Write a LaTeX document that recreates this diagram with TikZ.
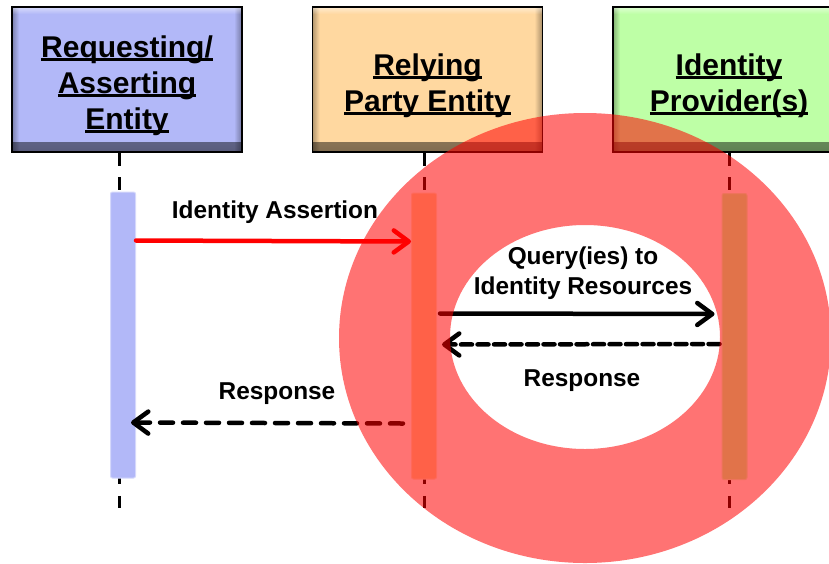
\documentclass[tikz,border=0pt]{standalone}
\usepackage{fontspec}
\setmainfont{Liberation Sans}
\usetikzlibrary{arrows.meta,fadings}

\definecolor{reqblue}{RGB}{178,184,248}
\definecolor{rporange}{RGB}{255,216,160}
\definecolor{idpgreen}{RGB}{190,255,166}

%% heavy underline for the header texts
\newcommand\hdul[1]{\setbox0\hbox{#1}\rlap{\rule[-3.5pt]{\wd0}{2.6pt}}\box0}

\tikzset{
  hdr/.style={draw=black, line width=1.8pt, fill=#1, minimum width=230pt,
    minimum height=145pt, inner sep=0pt,
    path picture={
      %% bevel
      \fill[black, opacity=.5, path fading=north]
        (path picture bounding box.south west) rectangle
        ([yshift=10pt]path picture bounding box.south east);
      \fill[black, opacity=.35, path fading=west]
        ([xshift=-8pt]path picture bounding box.south east) rectangle
        (path picture bounding box.north east);
      \fill[black, opacity=.3, path fading=east]
        (path picture bounding box.south west) rectangle
        ([xshift=7pt]path picture bounding box.north west);
      \fill[white, opacity=.5, path fading=south]
        ([yshift=-7pt]path picture bounding box.north west) rectangle
        (path picture bounding box.north east);
    }},
  hdrtxt/.style={align=center, inner sep=0pt,
    font=\fontsize{30}{36}\selectfont\bfseries},
  bar/.style={fill=#1, draw=#1!55!white, line width=1pt, rounded corners=2pt,
    minimum width=25pt, minimum height=286pt, inner sep=0pt},
  life/.style={line width=3pt, dash pattern=on 13pt off 11.5pt},
  msg/.style={line width=4.5pt, line cap=round,
    -{Straight Barb[length=15pt,width=22pt,round]}},
  lbl/.style={font=\fontsize{24.4}{30}\selectfont\bfseries, align=center,
    inner sep=0pt},
}

\begin{document}
\begin{tikzpicture}[x=1pt,y=-1pt]

  \useasboundingbox (0,0) rectangle (829,563);
  \clip (0,0) rectangle (829,563);

  %% entities
  \node[hdr=reqblue] (req) at (127,79.5) {};
  \node[hdr=rporange] (rp) at (427.5,79.5) {};
  \node[hdr=idpgreen] (idp) at (728,79.5) {};
  \node[hdrtxt] (reqtxt) at ([yshift=-6pt]req.center)
    {\hdul{Requesting/}\\\hdul{Asserting}\\\hdul{Entity}};
  \node[hdrtxt] (rptxt) at ([yshift=-6pt]rp.center)
    {\hdul{Relying}\\\hdul{Party Entity}};
  \node[hdrtxt] (idptxt) at ([yshift=-6pt,xshift=1pt]idp.center)
    {\hdul{Identity}\\\hdul{Provider(s)}};

  %% lifelines
  \coordinate (reqend) at (119,508);
  \coordinate (rpend) at (424,508);
  \coordinate (idpend) at (729,508);
  \draw[life] (req.south -| reqend) -- (reqend);
  \draw[life] (rp.south -| rpend) -- (rpend);
  \draw[life] (idp.south -| idpend) -- (idpend);

  %% activation bars
  \node[bar=reqblue] (reqbar) at (123,335) {};
  \node[bar=rporange] (rpbar) at (424,336) {};
  \node[bar=idpgreen] (idpbar) at (734.5,336.5) {};

  %% messages
  \draw[msg, red] ([yshift=-49pt]reqbar.north east)
    -- ([yshift=-49pt]rpbar.north west);
  \draw[msg] ([yshift=-121pt,xshift=3pt]rpbar.north east)
    -- ([yshift=-121pt,xshift=-7pt]idpbar.north west);
  \draw[msg, dash pattern=on 11pt off 5.5pt]
    ([yshift=-151pt,xshift=-2pt]idpbar.north west)
    -- ([yshift=-152pt,xshift=5pt]rpbar.north east);
  \draw[msg, dash pattern=on 13pt off 10pt]
    ([yshift=-231pt,xshift=-8pt]rpbar.north west)
    -- ([yshift=-231pt,xshift=-5pt]reqbar.north east);

  %% message labels
  \node[lbl] (asrtlbl) at (275,212) {Identity Assertion};
  \node[lbl] (qrylbl) at (583,273) {Query(ies) to\\Identity Resources};
  \node[lbl] (rsplbl) at (582,381) {Response};
  \node[lbl] (backlbl) at (277,394) {Response};

  %% ring
  \fill[red, fill opacity=.55, even odd rule]
    (585,338) ellipse [x radius=246, y radius=225]
    (585,337) ellipse [x radius=135, y radius=112];

\end{tikzpicture}
\end{document}
